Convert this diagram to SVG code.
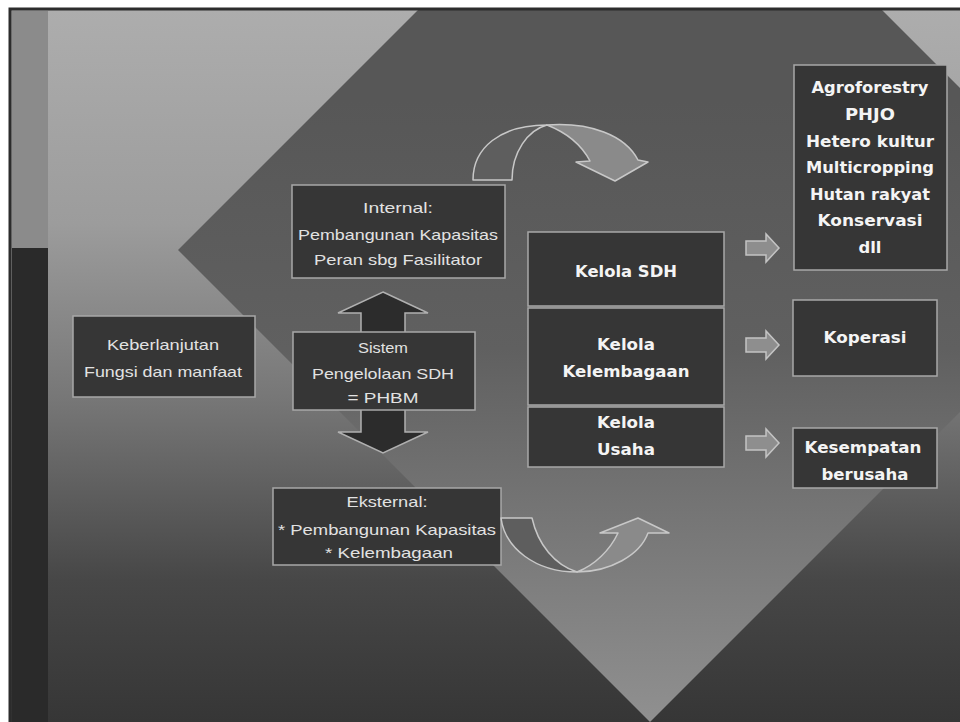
<svg xmlns="http://www.w3.org/2000/svg" width="960" height="722" viewBox="0 0 960 722">
<style>
.box{fill:#363636;stroke:#a8a8a8;stroke-width:1.5}
.t{font-family:"Liberation Sans",Arial,sans-serif;font-size:15px;fill:#e2e2e2;text-anchor:middle}
.b{font-family:"DejaVu Sans",Verdana,sans-serif;font-weight:bold;font-size:15px;fill:#f4f4f4;text-anchor:middle}
.dark{fill:#5e5e5e;stroke:#c8c8c8;stroke-width:1.5;stroke-linejoin:round}
.light{fill:#8a8a8a;stroke:#c8c8c8;stroke-width:1.5;stroke-linejoin:round}
.blk{fill:#8e8e8e;stroke:#c4c4c4;stroke-width:1.5}
.dbl{fill:#2c2c2c;stroke:#b0b0b0;stroke-width:1.5}
</style>
<defs>
<linearGradient id="bg" x1="0" y1="10" x2="0" y2="722" gradientUnits="userSpaceOnUse">
<stop offset="0" stop-color="#adadad"/>
<stop offset="0.3" stop-color="#9c9c9c"/>
<stop offset="0.55" stop-color="#767676"/>
<stop offset="0.8" stop-color="#474747"/>
<stop offset="1" stop-color="#363636"/>
</linearGradient>
<linearGradient id="dia" x1="0" y1="100" x2="0" y2="722" gradientUnits="userSpaceOnUse">
<stop offset="0" stop-color="#575757"/>
<stop offset="0.4" stop-color="#606060"/>
<stop offset="1" stop-color="#909090"/>
</linearGradient>
<clipPath id="frame"><rect x="10" y="9" width="950" height="713"/></clipPath>
</defs>
<rect x="0" y="0" width="960" height="722" fill="#ffffff"/>
<g clip-path="url(#frame)">
<rect x="10" y="9" width="955" height="720" fill="url(#bg)"/>
<polygon points="178,250 650,-222 1122,250 650,722" fill="url(#dia)"/>
<rect x="12" y="11" width="36" height="237" fill="#8b8b8b"/>
<rect x="12" y="248" width="36" height="474" fill="#2a2a2a"/>
</g>
<rect x="10" y="9" width="955" height="720" fill="none" stroke="#2c2c2c" stroke-width="3"/>

<g id="connectors">
<polygon class="dbl" points="383,292 428,313 405,313 405,432 428,432 383,453 338,432 361,432 361,313 338,313"/>
<path class="dark" d="M473,180 C473,148 500,125 547,125 C528,130 512,152 512,180 Z"/>
<path class="light" d="M547,125 C590,122 625,135 638,160 L648,162 L615,181 L576,162 L590,161 C580,142 565,132 547,125 Z"/>
<path class="blk" d="M746,241 L766,241 L766,234 L779,248 L766,262 L766,255 L746,255 Z"/>
<path class="blk" d="M746,338 L766,338 L766,331 L779,345 L766,359 L766,352 L746,352 Z"/>
<path class="blk" d="M746,436 L766,436 L766,429 L779,443 L766,457 L766,450 L746,450 Z"/>
</g>

<g id="internal">
<rect class="box" x="292" y="185" width="213" height="93"/>
<text class="t" x="398" y="213" textLength="70" lengthAdjust="spacingAndGlyphs">Internal:</text>
<text class="t" x="398" y="240" textLength="200" lengthAdjust="spacingAndGlyphs">Pembangunan Kapasitas</text>
<text class="t" x="398" y="265" textLength="168" lengthAdjust="spacingAndGlyphs">Peran sbg Fasilitator</text>
</g>

<g id="keberlanjutan">
<rect class="box" x="73" y="316" width="182" height="81"/>
<text class="t" x="163" y="350" textLength="112" lengthAdjust="spacingAndGlyphs">Keberlanjutan</text>
<text class="t" x="163" y="377" textLength="158" lengthAdjust="spacingAndGlyphs">Fungsi dan manfaat</text>
</g>

<g id="sistem">
<rect class="box" x="293" y="332" width="182" height="78"/>
<text class="t" x="383" y="353" textLength="50" lengthAdjust="spacingAndGlyphs">Sistem</text>
<text class="t" x="383" y="379" textLength="142" lengthAdjust="spacingAndGlyphs">Pengelolaan SDH</text>
<text class="t" x="383" y="403" textLength="71" lengthAdjust="spacingAndGlyphs">= PHBM</text>
</g>

<g id="eksternal">
<rect class="box" x="273" y="488" width="228" height="77"/>
<text class="t" x="387" y="507" textLength="81" lengthAdjust="spacingAndGlyphs">Eksternal:</text>
<text class="t" x="387" y="535" textLength="218" lengthAdjust="spacingAndGlyphs">* Pembangunan Kapasitas</text>
<text class="t" x="389" y="558" textLength="128" lengthAdjust="spacingAndGlyphs">* Kelembagaan</text>
</g>

<g id="connectors-bottom">
<path class="dark" d="M501,518 L532,518 C538,545 555,565 577,572 C535,572 505,548 501,518 Z"/>
<path class="light" d="M577,572 C610,572 640,555 648,533 L669,533 L638,518 L600,533 L618,533 C610,550 595,565 577,572 Z"/>
</g>

<g id="kelola-sdh">
<rect class="box" x="528" y="232" width="196" height="74"/>
<text class="b" x="626" y="277" textLength="102" lengthAdjust="spacingAndGlyphs">Kelola SDH</text>
</g>
<g id="kelola-kelembagaan">
<rect class="box" x="528" y="308" width="196" height="97"/>
<text class="b" x="626" y="350" textLength="58" lengthAdjust="spacingAndGlyphs">Kelola</text>
<text class="b" x="626" y="377" textLength="127" lengthAdjust="spacingAndGlyphs">Kelembagaan</text>
</g>
<g id="kelola-usaha">
<rect class="box" x="528" y="407" width="196" height="60"/>
<text class="b" x="626" y="428" textLength="58" lengthAdjust="spacingAndGlyphs">Kelola</text>
<text class="b" x="626" y="455" textLength="58" lengthAdjust="spacingAndGlyphs">Usaha</text>
</g>

<g id="agroforestry">
<rect class="box" x="794" y="65" width="153" height="205"/>
<text class="b" x="870" y="93" textLength="117" lengthAdjust="spacingAndGlyphs">Agroforestry</text>
<text class="b" x="870" y="120" textLength="50" lengthAdjust="spacingAndGlyphs">PHJO</text>
<text class="b" x="870" y="147" textLength="128" lengthAdjust="spacingAndGlyphs">Hetero kultur</text>
<text class="b" x="870" y="173" textLength="128" lengthAdjust="spacingAndGlyphs">Multicropping</text>
<text class="b" x="870" y="200" textLength="120" lengthAdjust="spacingAndGlyphs">Hutan rakyat</text>
<text class="b" x="870" y="226" textLength="105" lengthAdjust="spacingAndGlyphs">Konservasi</text>
<text class="b" x="870" y="253" textLength="23" lengthAdjust="spacingAndGlyphs">dll</text>
</g>

<g id="koperasi">
<rect class="box" x="793" y="300" width="144" height="76"/>
<text class="b" x="865" y="343" textLength="83" lengthAdjust="spacingAndGlyphs">Koperasi</text>
</g>

<g id="kesempatan">
<rect class="box" x="793" y="428" width="144" height="60"/>
<text class="b" x="863" y="453" textLength="117" lengthAdjust="spacingAndGlyphs">Kesempatan</text>
<text class="b" x="865" y="480" textLength="87" lengthAdjust="spacingAndGlyphs">berusaha</text>
</g>
</svg>
